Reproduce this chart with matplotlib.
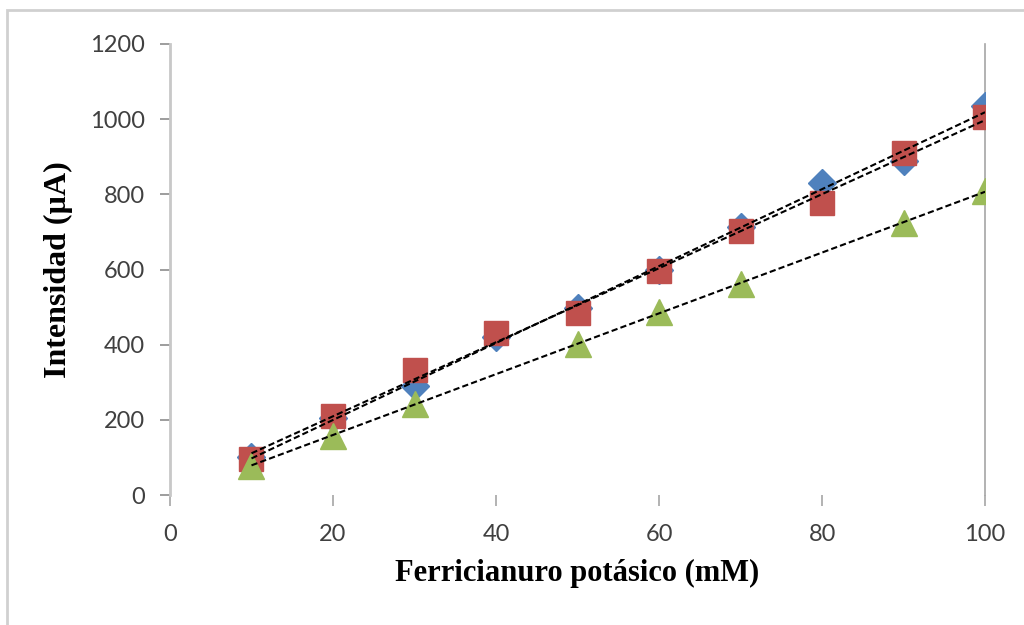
import matplotlib.pyplot as plt
import numpy as np
from matplotlib.patches import Rectangle

x = [10, 20, 30, 40, 50, 60, 70, 80, 90, 100]
blue = [100, 205, 290, 420, 497, 600, 712, 830, 890, 1035]
red = [95, 210, 332, 430, 483, 597, 702, 777, 911, 1005]
x_green = [10, 20, 30, 50, 60, 70, 90, 100]
green = [78, 158, 243, 402, 488, 561, 724, 808]

fig = plt.figure(figsize=(10.24, 6.25), dpi=100)
ax = fig.add_axes([0.166, 0.208, 0.796, 0.7216])

ax.plot(x, blue, 'D', color='#4F81BD', markersize=14, zorder=3)
ax.plot(x, red, 's', color='#C0504D', markersize=17, zorder=4)
ax.plot(x_green, green, '^', color='#9BBB59', markersize=19, zorder=5)

# linear trendlines like Excel
for xs, ys in [(x, blue), (x, red), (x_green, green)]:
    xs = np.array(xs, dtype=float)
    m, b = np.polyfit(xs, ys, 1)
    xx = np.array([xs.min(), xs.max()])
    ax.plot(xx, m * xx + b, color='black', lw=1.5, ls=(0, (3, 1.5)), zorder=6)

ax.set_xlim(0, 100)
ax.set_ylim(0, 1200)
ax.set_xticks([0, 20, 40, 60, 80, 100])
ax.set_yticks([0, 200, 400, 600, 800, 1000, 1200])

for s in ['top', 'bottom']:
    ax.spines[s].set_visible(False)
ax.spines['left'].set_color('#c8c8c8')
ax.spines['left'].set_linewidth(2)
ax.spines['right'].set_color('#a6a6a6')
ax.spines['right'].set_linewidth(1.2)

ax.tick_params(axis='y', length=7, width=1.2, color='#8c8c8c', pad=11,
               labelsize=17, labelcolor='#404040')
ax.tick_params(axis='x', length=8, width=1.2, color='#a6a6a6', pad=13,
               labelsize=17, labelcolor='#404040')
for lab in ax.get_xticklabels() + ax.get_yticklabels():
    lab.set_family('Lato')

ax.set_xlabel('Ferricianuro potásico (mM)', family='Liberation Serif',
              fontweight='bold', fontsize=22, labelpad=10)
ax.set_ylabel('Intensidad (µA)', family='Liberation Serif',
              fontweight='bold', fontsize=23, labelpad=12)

fig.patches.append(Rectangle((0.007, -0.1), 1.2, 1.084, transform=fig.transFigure,
                             fill=False, edgecolor='#d0d0d0', lw=2))

fig.savefig('out.png', dpi=100)
